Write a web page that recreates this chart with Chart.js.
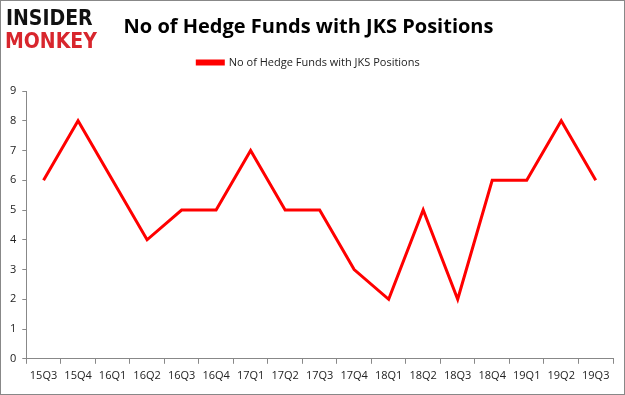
<!DOCTYPE html>
<html>
<head>
<meta charset="utf-8">
<script src="https://cdn.jsdelivr.net/npm/chart.js@4"></script>
<style>
  html, body { margin: 0; padding: 0; background: #fff; }
  #wrap { width: 625px; height: 395px; }
</style>
</head>
<body>
<div id="wrap"><canvas id="linechart" width="625" height="395"></canvas></div>
<script>
var quarters = ['15Q3','15Q4','16Q1','16Q2','16Q3','16Q4','17Q1','17Q2','17Q3','17Q4','18Q1','18Q2','18Q3','18Q4','19Q1','19Q2','19Q3'];
var funds = [6, 8, 6, 4, 5, 5, 7, 5, 5, 3, 2, 5, 2, 6, 6, 8, 6];
var seriesName = 'No of Hedge Funds with JKS Positions';

// logo + outer frame
var decor = {
  id: 'decor',
  beforeInit: function (chart) {
    // extra room under the legend
    var lg = chart.legend;
    if (lg) {
      var fit = lg.fit;
      lg.fit = function () { fit.call(this); this.height += 13; };
    }
  },
  afterDraw: function (chart) {
    var c = chart.ctx;
    c.save();
    c.strokeStyle = '#888';
    c.lineWidth = 1;
    c.strokeRect(0.5, 0.5, 624, 394);
    c.font = 'bold 21px "DejaVu Sans Condensed"';
    c.textBaseline = 'alphabetic';
    c.fillStyle = '#111';
    c.fillText('INSIDER', 6, 25);
    c.fillStyle = '#d8262d';
    c.fillText('MONKEY', 5, 48);
    c.restore();
  }
};

var config = {
  type: 'line',
  data: {
    labels: quarters,
    datasets: [{
      label: seriesName,
      data: funds,
      borderColor: 'rgb(255,0,0)',
      backgroundColor: 'rgb(255,0,0)',
      borderWidth: 3,
      pointRadius: 0,
      tension: 0
    }]
  },
  options: {
    responsive: false,
    animation: false,
    layout: { padding: { left: 4, right: 12, top: 6, bottom: 8 } },
    plugins: {
      title: {
        display: true,
        text: 'No of Hedge Funds with JKS Positions',
        color: '#000',
        font: { family: '"Open Sans"', size: 20, weight: 'bold' },
        padding: { top: 9, bottom: 6 },
        align: 'center'
      },
      legend: {
        labels: {
          boxWidth: 26,
          boxHeight: 3,
          color: '#222',
          font: { family: '"Open Sans"', size: 11 },
          padding: 12
        }
      },
      tooltip: { enabled: false }
    },
    scales: {
      x: {
        offset: true,
        grid: { display: true, drawOnChartArea: false, drawTicks: true, tickLength: 5, offset: true, color: '#888' },
        border: { color: '#888' },
        ticks: { color: '#222', font: { family: '"Open Sans"', size: 11 }, maxRotation: 0, autoSkip: false, padding: 5 }
      },
      y: {
        min: 0,
        max: 9,
        ticks: { stepSize: 1, color: '#222', font: { family: '"Open Sans"', size: 11 }, padding: 6 },
        grid: { display: true, drawOnChartArea: false, drawTicks: true, tickLength: 4, color: '#888' },
        border: { color: '#888' }
      }
    }
  },
  plugins: [decor]
};

var linechart = new Chart(document.getElementById('linechart'), config);
</script>
</body>
</html>
